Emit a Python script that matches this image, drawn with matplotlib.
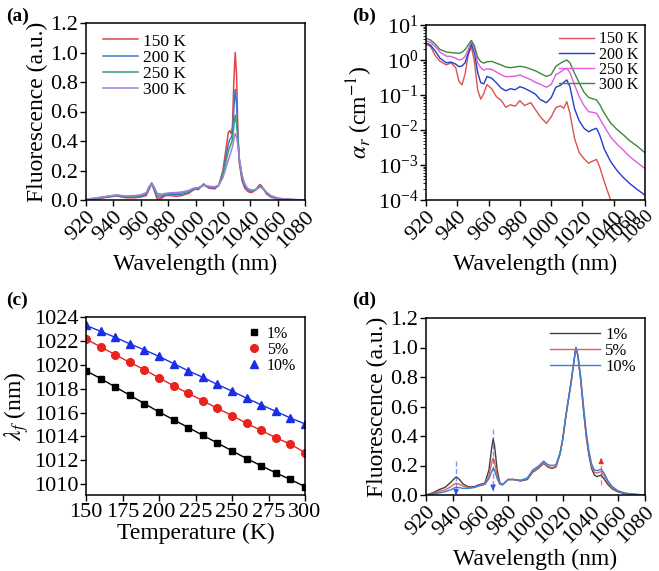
import numpy as np
import matplotlib
matplotlib.use("Agg")
import matplotlib.pyplot as plt
from matplotlib.ticker import LogLocator, NullFormatter

plt.rcParams['font.family'] = ['Liberation Serif', 'DejaVu Serif']
plt.rcParams['mathtext.fontset'] = 'stix'

# ---- (a) fluorescence vs temperature ----
wl_a = [920, 925, 930, 935, 940, 943, 946, 950, 955, 960, 964, 966, 968, 970, 972, 975, 978,
        982, 986, 990, 995, 998, 1000, 1002, 1004, 1006, 1008, 1010, 1014, 1017, 1020, 1022,
        1024, 1025, 1026, 1027, 1028, 1029, 1030, 1031, 1032, 1034, 1036, 1038, 1040, 1042,
        1044, 1046, 1047, 1048, 1050, 1052, 1055, 1060, 1065, 1070, 1080]
fl_150 = [0.0, 0.005, 0.01, 0.018, 0.025, 0.027, 0.02, 0.015, 0.015, 0.02, 0.03, 0.07, 0.11,
          0.06, 0.005, 0.01, 0.03, 0.03, 0.025, 0.03, 0.045, 0.065, 0.075, 0.07, 0.09, 0.11,
          0.09, 0.08, 0.075, 0.1, 0.2, 0.33, 0.46, 0.47, 0.45, 0.5, 0.8, 1.0, 0.85, 0.45, 0.25,
          0.13, 0.08, 0.06, 0.05, 0.055, 0.07, 0.095, 0.105, 0.1, 0.07, 0.04, 0.02, 0.008,
          0.004, 0.002, 0.0]
fl_200 = [0.002, 0.008, 0.013, 0.02, 0.027, 0.03, 0.025, 0.02, 0.02, 0.025, 0.04, 0.08, 0.115,
          0.07, 0.02, 0.02, 0.035, 0.038, 0.035, 0.038, 0.05, 0.07, 0.075, 0.075, 0.09, 0.105,
          0.095, 0.085, 0.08, 0.1, 0.18, 0.28, 0.38, 0.41, 0.42, 0.45, 0.62, 0.75, 0.65, 0.42,
          0.27, 0.15, 0.09, 0.07, 0.06, 0.06, 0.07, 0.085, 0.09, 0.09, 0.07, 0.045, 0.025,
          0.01, 0.005, 0.003, 0.0]
fl_250 = [0.003, 0.01, 0.016, 0.023, 0.03, 0.032, 0.028, 0.025, 0.025, 0.03, 0.045, 0.085,
          0.115, 0.08, 0.035, 0.03, 0.04, 0.045, 0.045, 0.048, 0.058, 0.075, 0.08, 0.08, 0.09,
          0.1, 0.095, 0.09, 0.085, 0.1, 0.17, 0.25, 0.33, 0.36, 0.38, 0.41, 0.5, 0.575, 0.52,
          0.4, 0.28, 0.16, 0.1, 0.075, 0.065, 0.063, 0.07, 0.085, 0.09, 0.088, 0.072, 0.05,
          0.028, 0.012, 0.006, 0.003, 0.0]
fl_300 = [0.004, 0.012, 0.018, 0.025, 0.032, 0.034, 0.03, 0.028, 0.03, 0.035, 0.05, 0.09, 0.11,
          0.085, 0.045, 0.04, 0.045, 0.05, 0.05, 0.055, 0.065, 0.078, 0.082, 0.085, 0.092, 0.1,
          0.097, 0.093, 0.09, 0.1, 0.15, 0.21, 0.27, 0.3, 0.33, 0.36, 0.41, 0.45, 0.43, 0.37,
          0.28, 0.17, 0.11, 0.08, 0.07, 0.068, 0.072, 0.082, 0.085, 0.085, 0.073, 0.053, 0.03,
          0.014, 0.007, 0.004, 0.001]

# ---- (b) absorption coefficient, log10 values ----
wl_b = [920, 923, 926, 929, 933, 936, 939, 941, 943, 945, 947, 949, 951, 953, 955, 957, 959,
        962, 965, 968, 971, 974, 977, 980, 983, 987, 990, 993, 997, 1000, 1003, 1006, 1008,
        1010, 1012, 1015, 1018, 1021, 1024, 1026, 1029, 1031, 1034, 1038, 1042, 1046, 1050,
        1055, 1060]
lg_150 = [0.46, 0.38, 0.12, -0.04, -0.14, -0.08, -0.22, -0.60, -0.71, -0.40, 0.15, 0.38, -0.05,
          -0.85, -1.12, -0.95, -0.70, -0.82, -1.05, -1.15, -1.35, -1.28, -1.32, -1.16, -1.30,
          -1.22, -1.42, -1.62, -1.81, -1.63, -1.36, -1.31, -1.38, -1.19, -1.52, -2.25, -2.65,
          -2.82, -2.95, -2.90, -2.84, -3.05, -3.48, -4.0, -4.6, np.nan, np.nan, np.nan, np.nan]
lg_200 = [0.49, 0.42, 0.25, 0.05, -0.08, -0.06, -0.12, -0.19, -0.17, -0.08, 0.20, 0.46, 0.20,
          -0.35, -0.65, -0.68, -0.47, -0.52, -0.65, -0.80, -0.88, -0.82, -0.85, -0.76, -0.81,
          -0.90, -0.98, -1.13, -1.22, -1.08, -0.78, -0.72, -0.64, -0.57, -0.76, -1.40, -1.74,
          -1.95, -2.05, -2.00, -1.95, -2.14, -2.55, -2.90, -3.15, -3.35, -3.52, -3.70, -3.86]
lg_250 = [0.55, 0.50, 0.38, 0.22, 0.11, 0.10, 0.05, 0.0, 0.02, 0.10, 0.30, 0.52, 0.35, -0.08,
          -0.22, -0.29, -0.25, -0.27, -0.34, -0.42, -0.48, -0.47, -0.46, -0.43, -0.49, -0.56,
          -0.64, -0.69, -0.78, -0.70, -0.42, -0.34, -0.28, -0.24, -0.36, -0.72, -1.05, -1.30,
          -1.48, -1.49, -1.52, -1.67, -1.90, -2.20, -2.40, -2.57, -2.75, -2.93, -3.10]
lg_300 = [0.62, 0.57, 0.45, 0.30, 0.23, 0.21, 0.20, 0.19, 0.22, 0.30, 0.43, 0.56, 0.40, 0.08,
          -0.05, -0.09, -0.05, -0.04, -0.09, -0.14, -0.20, -0.22, -0.20, -0.18, -0.20, -0.26,
          -0.31, -0.38, -0.47, -0.42, -0.18, -0.09, -0.04, 0.0, -0.08, -0.38, -0.66, -0.92,
          -1.07, -1.10, -1.14, -1.27, -1.52, -1.80, -1.98, -2.13, -2.30, -2.46, -2.65]
# tick labels of (b) as printed; the last two sit off their ticks
b_ticks = [920, 940, 960, 980, 1000, 1020, 1040, 1060]
b_extra_labels = ['1060', '1080']
b_extra_pos = [1050.0, 1059.5]

# ---- (c) fluorescence peak wavelength vs temperature ----
temp = [150, 160, 170, 180, 190, 200, 210, 220, 230, 240, 250, 260, 270, 280, 290, 300]
lam_1 = [1019.5, 1018.85, 1018.15, 1017.45, 1016.75, 1016.05, 1015.4, 1014.75, 1014.1, 1013.45,
         1012.8, 1012.15, 1011.55, 1010.95, 1010.4, 1009.8]
lam_5 = [1022.15, 1021.5, 1020.85, 1020.2, 1019.6, 1018.9, 1018.25, 1017.6, 1017.0, 1016.35,
         1015.75, 1015.1, 1014.5, 1013.9, 1013.35, 1012.65]
lam_10 = [1023.3, 1022.8, 1022.3, 1021.75, 1021.25, 1020.7, 1020.1, 1019.5, 1018.95, 1018.35,
          1017.8, 1017.2, 1016.65, 1016.1, 1015.55, 1015.05]

# ---- (d) fluorescence vs doping ----
wl_d = [920, 925, 930, 934, 938, 940, 942, 944, 947, 951, 955, 959, 963, 966, 968, 969, 970,
        972, 974, 976, 980, 984, 989, 994, 998, 1002, 1006, 1009, 1012, 1015, 1018, 1020, 1022,
        1024, 1026, 1028, 1029.5, 1031, 1033, 1035, 1037, 1039, 1041, 1043, 1045, 1048, 1050,
        1053, 1056, 1060, 1065, 1070, 1080]
fd_1 = [0.0, 0.015, 0.038, 0.052, 0.085, 0.105, 0.122, 0.11, 0.075, 0.055, 0.056, 0.07, 0.08,
        0.17, 0.32, 0.38, 0.34, 0.17, 0.08, 0.07, 0.105, 0.105, 0.095, 0.105, 0.155, 0.18, 0.215,
        0.19, 0.18, 0.19, 0.28, 0.38, 0.52, 0.64, 0.76, 0.9, 1.0, 0.94, 0.78, 0.58, 0.4, 0.27,
        0.18, 0.135, 0.125, 0.135, 0.11, 0.07, 0.042, 0.022, 0.01, 0.005, 0.0]
fd_5 = [0.0, 0.01, 0.025, 0.035, 0.055, 0.07, 0.079, 0.075, 0.06, 0.05, 0.052, 0.065, 0.075,
        0.13, 0.22, 0.25, 0.23, 0.13, 0.075, 0.07, 0.105, 0.105, 0.098, 0.11, 0.16, 0.185, 0.22,
        0.195, 0.185, 0.195, 0.285, 0.385, 0.525, 0.645, 0.765, 0.9, 1.0, 0.945, 0.79, 0.595,
        0.415, 0.285, 0.195, 0.155, 0.148, 0.16, 0.135, 0.085, 0.05, 0.026, 0.012, 0.006, 0.0]
fd_10 = [0.0, 0.006, 0.015, 0.022, 0.035, 0.045, 0.052, 0.05, 0.045, 0.045, 0.05, 0.062, 0.072,
         0.11, 0.16, 0.18, 0.17, 0.11, 0.072, 0.07, 0.105, 0.105, 0.1, 0.115, 0.17, 0.195, 0.23,
         0.205, 0.2, 0.205, 0.29, 0.39, 0.53, 0.65, 0.77, 0.9, 1.0, 0.95, 0.8, 0.61, 0.43, 0.3,
         0.21, 0.17, 0.165, 0.175, 0.15, 0.095, 0.058, 0.03, 0.014, 0.007, 0.0]
# dashed arrows in (d): x, start, end
arrow_x = [942, 969, 1048]
arrow_from = [0.23, 0.45, 0.065]
arrow_to = [0.0, 0.03, 0.25]
arrow_col = ['#3355dd', '#3355dd', '#e03030']

W, H = 659, 571
fig = plt.figure(figsize=(W / 100, H / 100), dpi=100)

def box(l, t, r, b):
    return [l / W, 1 - b / H, (r - l) / W, (b - t) / H]

ax_a = fig.add_axes(box(86, 23, 305, 200))
ax_b = fig.add_axes(box(426, 25, 645, 200))
ax_c = fig.add_axes(box(86, 317, 305, 495))
ax_d = fig.add_axes(box(426, 318, 645, 495))

tick_fs = 16
lab_fs = 17

for ax in (ax_a, ax_b, ax_c, ax_d):
    ax.tick_params(direction='out', labelsize=tick_fs, width=1, length=4, pad=1.5)
    for s in ax.spines.values():
        s.set_linewidth(1.1)

def wl_axis(ax, top):
    ax.set_xlim(920, 1080)
    ax.set_xticks(range(920, 1081, 20))
    ax.set_ylim(0, top)
    ax.set_yticks(np.arange(0, top + 0.01, 0.2))
    ax.set_yticklabels([f'{v:.1f}' for v in np.arange(0, top + 0.01, 0.2)])
    plt.setp(ax.get_xticklabels(), rotation=45, ha='right', rotation_mode='anchor')
    ax.set_xlabel('Wavelength (nm)', fontsize=lab_fs, labelpad=1)

# (a)
ax_a.plot(wl_a, fl_150, color='#e0454a', lw=1.1, label='150 K')
ax_a.plot(wl_a, fl_200, color='#3a78d0', lw=1.1, label='200 K')
ax_a.plot(wl_a, fl_250, color='#35a070', lw=1.1, label='250 K')
ax_a.plot(wl_a, fl_300, color='#a57fdc', lw=1.1, label='300 K')
wl_axis(ax_a, 1.2)
ax_a.set_ylabel('Fluorescence (a.u.)', fontsize=lab_fs, labelpad=2)
ax_a.legend(loc='upper left', frameon=False, fontsize=12.5, handlelength=2.0,
            labelspacing=0.0, handletextpad=0.3, borderaxespad=0.2,
            bbox_to_anchor=(0.03, 1.0))

# (b)
ax_b.plot(wl_b, 10 ** np.array(lg_150), color='#d9534f', lw=1.0, label='150 K')
ax_b.plot(wl_b, 10 ** np.array(lg_200), color='#1f3fc8', lw=1.0, label='200 K')
ax_b.plot(wl_b, 10 ** np.array(lg_250), color='#e05ce0', lw=1.0, label='250 K')
ax_b.plot(wl_b, 10 ** np.array(lg_300), color='#3a8a3a', lw=1.0, label='300 K')
ax_b.set_yscale('log')
ax_b.set_ylim(1e-4, 1e1)
ax_b.yaxis.set_major_locator(LogLocator(base=10, numticks=10))
ax_b.yaxis.set_minor_locator(LogLocator(base=10, subs=np.arange(2, 10), numticks=20))
ax_b.yaxis.set_minor_formatter(NullFormatter())
ax_b.set_xlim(920, 1060)
ax_b.set_xticks(b_ticks)
ax_b.set_xticklabels([str(t) for t in b_ticks[:-1]] + [''])
plt.setp(ax_b.get_xticklabels(), rotation=45, ha='right', rotation_mode='anchor')
for lab, pos in zip(b_extra_labels, b_extra_pos):
    ax_b.text(pos, -0.035, lab, transform=ax_b.get_xaxis_transform(), rotation=45,
              ha='right', va='top', rotation_mode='anchor', fontsize=14)
ax_b.set_xlabel('Wavelength (nm)', fontsize=lab_fs, labelpad=1)
ax_b.set_ylabel(r'$\alpha_r$ (cm$^{-1}$)', fontsize=lab_fs, labelpad=2)
ax_b.legend(loc='upper right', frameon=False, fontsize=11.5, handlelength=2.2,
            labelspacing=-0.05, handletextpad=0.3, borderaxespad=0.0,
            bbox_to_anchor=(1.0, 1.0))

# (c)
ax_c.plot(temp, lam_1, color='black', lw=1.0, marker='s', ms=5, label='1%')
ax_c.plot(temp, lam_5, color='#e8221c', lw=1.0, marker='o', ms=5.5, label='5%')
ax_c.plot(temp, lam_10, color='#1a2ee8', lw=1.0, marker='^', ms=5.5, label='10%')
ax_c.set_xlim(150, 300)
ax_c.set_xticks(range(150, 301, 25))
ax_c.set_ylim(1009.1, 1024)
ax_c.set_yticks(range(1010, 1025, 2))
ax_c.set_xlabel('Temperature (K)', fontsize=lab_fs, labelpad=1)
ax_c.set_ylabel(r'$\lambda_f$ (nm)', fontsize=lab_fs, labelpad=2)
leg = ax_c.legend(loc='upper right', frameon=False, fontsize=11.5, handlelength=1.0,
                  labelspacing=0.0, handletextpad=0.3, borderaxespad=0.15)
for h in leg.legend_handles:
    h.set_linestyle('none')

# (d)
ax_d.plot(wl_d, fd_1, color='#404040', lw=1.0, label='1%')
ax_d.plot(wl_d, fd_5, color='#e06060', lw=1.0, label='5%')
ax_d.plot(wl_d, fd_10, color='#3a7fd8', lw=1.0, label='10%')
for x, y0, y1, c in zip(arrow_x, arrow_from, arrow_to, arrow_col):
    ax_d.plot([x, x], [y0, y1], ls='--', lw=1.0, color=c, alpha=0.6)
    ax_d.annotate('', xy=(x, y1), xytext=(x, y1 - 0.03 if y1 > y0 else y1 + 0.03),
                  arrowprops=dict(arrowstyle='-|>', color=c, lw=1.0, mutation_scale=7))
wl_axis(ax_d, 1.2)
ax_d.set_ylabel('Fluorescence (a.u.)', fontsize=lab_fs, labelpad=2)
ax_d.legend(loc='upper right', frameon=False, fontsize=12, handlelength=3.0,
            labelspacing=0.0, handletextpad=0.3, borderaxespad=0.15)

for txt, x, y in [('(a)', 6, 16), ('(b)', 352, 16), ('(c)', 6, 300), ('(d)', 352, 300)]:
    fig.text(x / W, 1 - y / H, txt, fontsize=14, fontweight='bold', va='center')

fig.savefig('out.png', dpi=100)
